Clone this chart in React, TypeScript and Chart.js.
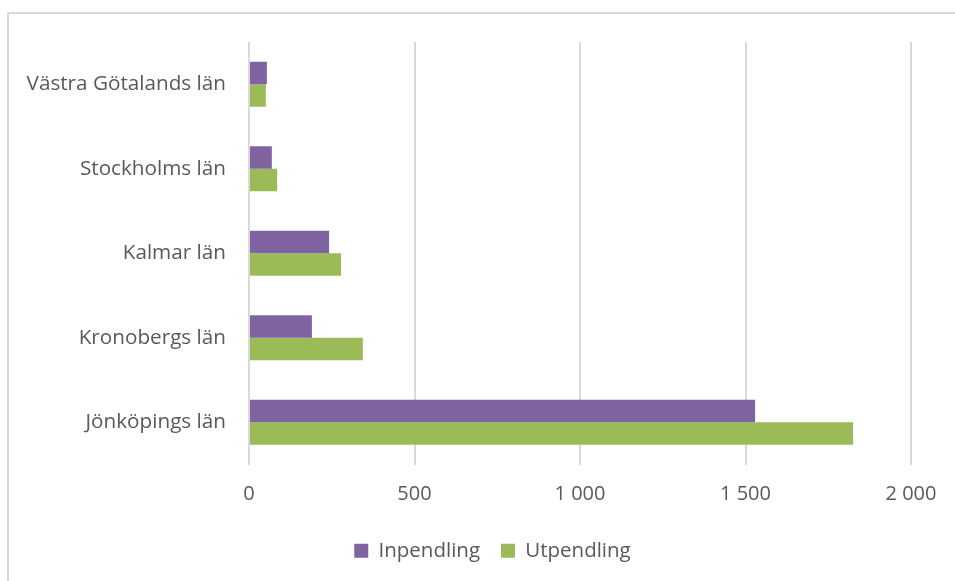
import React, { useEffect, useRef } from "react";
import { Chart, registerables } from "chart.js";

Chart.register(...registerables);

const categories = [
  "Västra Götalands län",
  "Stockholms län",
  "Kalmar län",
  "Kronobergs län",
  "Jönköpings län",
];
const inpendling = [54, 69, 242, 190, 1529];
const utpendling = [51, 85, 278, 344, 1825];
const seriesNames = ["Inpendling", "Utpendling"];
const xTicks = [0, 500, 1000, 1500, 2000];

const FONT = "'Open Sans', sans-serif";
const TEXT = "#595959";

const fmt = (v: number) => String(v).replace(/\B(?=(\d{3})+(?!\d))/g, " ");

const shiftLegend = {
  id: "shiftLegend",
  afterLayout(chart: any) {
    const lg = chart.legend;
    if (lg) {
      lg.left += 37;
      lg.right += 37;
    }
  },
};

export default function App() {
  const ref = useRef<HTMLCanvasElement | null>(null);
  useEffect(() => {
    if (!ref.current) return;
    const chart = new Chart(ref.current, {
      type: "bar",
      data: {
        labels: categories,
        datasets: [
          { label: seriesNames[0], data: inpendling, backgroundColor: "#8064a2" },
          { label: seriesNames[1], data: utpendling, backgroundColor: "#9bbb59" },
        ],
      },
      plugins: [shiftLegend],
      options: {
        indexAxis: "y",
        animation: false,
        responsive: false,
        maintainAspectRatio: false,
        datasets: { bar: { categoryPercentage: 0.53, barPercentage: 1 } },
        layout: { padding: { left: 0, right: 44, top: 42, bottom: 10 } },
        scales: {
          x: {
            min: xTicks[0],
            max: xTicks[xTicks.length - 1],
            z: 1,
            afterBuildTicks: (s: any) => {
              s.ticks = xTicks.map((v) => ({ value: v }));
            },
            afterFit: (s: any) => {
              s.height = 55;
            },
            ticks: {
              color: TEXT,
              font: { family: FONT, size: 20 },
              padding: 18,
              callback: (v: any) => fmt(Number(v)),
            },
            grid: { color: "#d9d9d9", lineWidth: 2, drawTicks: false },
            border: { display: false },
          },
          y: {
            afterFit: (s: any) => {
              s.width = 249;
            },
            ticks: {
              color: TEXT,
              font: { family: FONT, size: 20.7 },
              padding: 23,
            },
            grid: { display: false, drawTicks: false },
            border: { display: false },
          },
        },
        plugins: {
          legend: {
            position: "bottom",
            labels: {
              color: TEXT,
              font: { family: FONT, size: 20.5 },
              boxWidth: 14,
              boxHeight: 14,
              padding: 21,
            },
          },
          tooltip: { enabled: false },
        },
      },
    });
    return () => chart.destroy();
  }, []);
  return (
    <div style={{ position: "fixed", left: 0, top: 0, width: 955, height: 581, background: "#fff" }}>
      <div
        style={{
          position: "absolute",
          left: 7,
          top: 12,
          width: 960,
          height: 580,
          borderLeft: "2px solid #d9d9d9",
          borderTop: "2px solid #d9d9d9",
        }}
      />
      <canvas ref={ref} width={955} height={581} style={{ position: "absolute", left: 0, top: 0 }} />
    </div>
  );
}
